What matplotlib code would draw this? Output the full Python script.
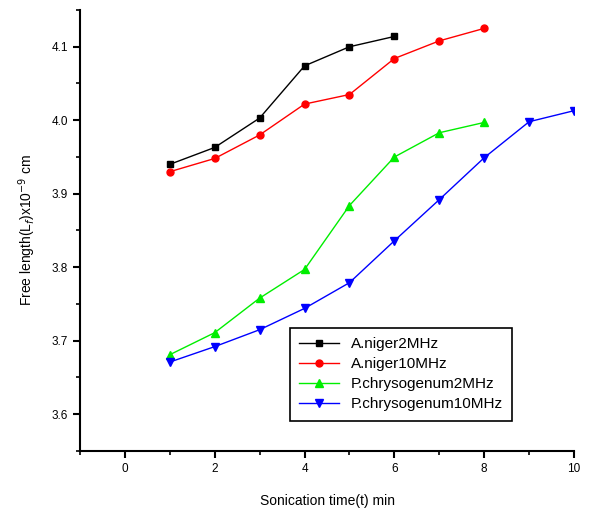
import matplotlib.pyplot as plt
from matplotlib.ticker import MultipleLocator

plt.rcParams['font.family'] = ['Liberation Sans', 'DejaVu Sans']

# sonication time (min) and free length values
t_niger2 = [1, 2, 3, 4, 5, 6]
niger2 = [3.940, 3.963, 4.003, 4.074, 4.100, 4.114]
t_niger10 = [1, 2, 3, 4, 5, 6, 7, 8]
niger10 = [3.930, 3.948, 3.980, 4.022, 4.035, 4.084, 4.108, 4.125]
t_chry2 = [1, 2, 3, 4, 5, 6, 7, 8]
chry2 = [3.681, 3.711, 3.758, 3.797, 3.884, 3.950, 3.983, 3.997]
t_chry10 = [1, 2, 3, 4, 5, 6, 7, 8, 9, 10]
chry10 = [3.671, 3.692, 3.715, 3.744, 3.779, 3.836, 3.892, 3.949, 3.998, 4.013]

fig = plt.figure(figsize=(5.93, 5.13), dpi=100)
ax = fig.add_axes([0.1349, 0.1209, 0.8331, 0.8596])

ax.plot(t_niger2, niger2, color='black', marker='s', ms=5, lw=1, label='A.niger2MHz')
ax.plot(t_niger10, niger10, color='red', marker='o', ms=5, lw=1, label='A.niger10MHz')
ax.plot(t_chry2, chry2, color='#00ee00', marker='^', ms=6, lw=1, label='P.chrysogenum2MHz')
ax.plot(t_chry10, chry10, color='blue', marker='v', ms=6, lw=1, label='P.chrysogenum10MHz')

ax.set_xlim(-1, 10)
ax.set_ylim(3.55, 4.15)
ax.xaxis.set_minor_locator(MultipleLocator(1))
ax.yaxis.set_minor_locator(MultipleLocator(0.05))
ax.set_xticks([0, 2, 4, 6, 8, 10])
ax.set_yticks([3.6, 3.7, 3.8, 3.9, 4.0, 4.1])

for side in ['top', 'right']:
    ax.spines[side].set_visible(False)
for side in ['left', 'bottom']:
    ax.spines[side].set_linewidth(1.5)
ax.tick_params(which='major', direction='out', length=5, width=1.5, labelsize=8.5)
ax.tick_params(which='minor', direction='out', length=3, width=1.2)

ax.set_xlabel('Sonication time(t) min', fontsize=10, labelpad=14)
ax.set_ylabel(r'Free length(L$_f$)x10$^{-9}$ cm', fontsize=10, labelpad=10)

leg = ax.legend(loc='upper left', bbox_to_anchor=(0.425, 0.279), fontsize=11,
                frameon=True, fancybox=False, edgecolor='black', framealpha=1,
                handlelength=2.6, borderpad=0.6, labelspacing=0.4,
                borderaxespad=0)
leg.get_frame().set_linewidth(1.2)

fig.savefig('out.png', dpi=100)
